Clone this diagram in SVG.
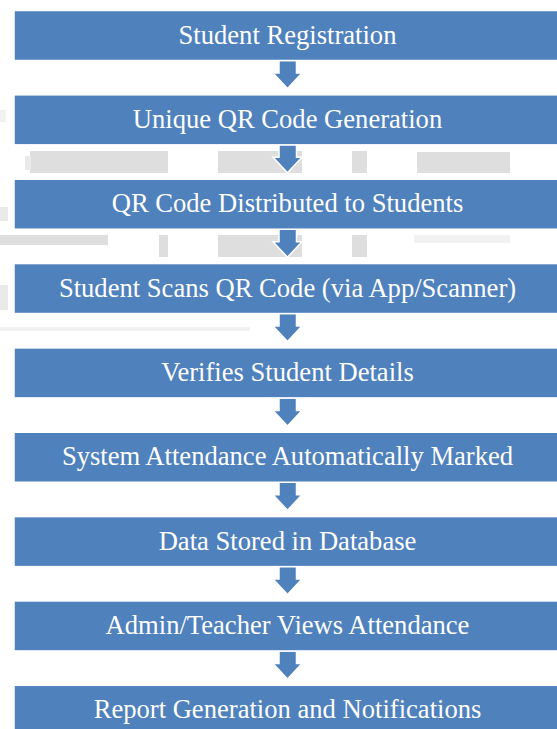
<svg xmlns="http://www.w3.org/2000/svg" width="557" height="729" viewBox="0 0 557 729">
<defs>
<style>
.box{fill:#4f81bd;stroke:#ffffff;stroke-width:1.5}
.arr{fill:#4f81bd;stroke:#ffffff;stroke-width:1.5;stroke-linejoin:miter}
.lbl{font-family:"Liberation Serif","Times New Roman",serif;font-size:26.6px;fill:#ffffff;text-anchor:middle}
.bg{fill:#dedede}
.bg2{fill:#eaeaea}
.bg3{fill:#f2f2f2}
</style>
<filter id="soft" x="-10%" y="-50%" width="120%" height="200%"><feGaussianBlur stdDeviation="0.7"/></filter>
<path id="ar" d="M279,0 H296.5 V12.5 H302 L287.5,28 L273,12.5 H279 Z"/>
</defs>
<rect width="557" height="729" fill="#ffffff"/>
<g id="background" filter="url(#soft)">
<rect class="bg" x="30" y="151" width="138" height="22"/>
<rect class="bg2" x="25" y="156" width="6" height="14"/>
<rect class="bg" x="218" y="151" width="84" height="22"/>
<rect class="bg" x="352" y="151" width="15" height="22"/>
<rect class="bg" x="417" y="152" width="93" height="21"/>
<rect class="bg" x="0" y="235" width="108" height="10"/>
<rect class="bg" x="159" y="235" width="9" height="22"/>
<rect class="bg" x="218" y="235" width="84" height="22"/>
<rect class="bg" x="352" y="235" width="15" height="22"/>
<rect class="bg3" x="414" y="235" width="96" height="8"/>
<rect class="bg3" x="0" y="110" width="6" height="12"/>
<rect class="bg2" x="0" y="207" width="8" height="14"/>
<rect class="bg2" x="0" y="285" width="8" height="25"/>
<rect class="bg3" x="0" y="327" width="250" height="4"/>
</g>
<g id="connectors">
<use href="#ar" class="arr" y="60.5"/>
<use href="#ar" class="arr" y="144.85"/>
<use href="#ar" class="arr" y="229.2"/>
<use href="#ar" class="arr" y="313.55"/>
<use href="#ar" class="arr" y="397.9"/>
<use href="#ar" class="arr" y="482.25"/>
<use href="#ar" class="arr" y="566.6"/>
<use href="#ar" class="arr" y="650.95"/>
</g>
<g id="n1"><rect class="box" x="14" y="10.5" width="550" height="50"/><text class="lbl" x="287.5" y="43.5">Student Registration</text></g>
<g id="n2"><rect class="box" x="14" y="94.85" width="550" height="50"/><text class="lbl" x="287.5" y="127.85">Unique QR Code Generation</text></g>
<g id="n3"><rect class="box" x="14" y="179.2" width="550" height="50"/><text class="lbl" x="287.5" y="212.2">QR Code Distributed to Students</text></g>
<g id="n4"><rect class="box" x="14" y="263.55" width="550" height="50"/><text class="lbl" x="287.5" y="296.55">Student Scans QR Code (via App/Scanner)</text></g>
<g id="n5"><rect class="box" x="14" y="347.9" width="550" height="50"/><text class="lbl" x="287.5" y="380.9">Verifies Student Details</text></g>
<g id="n6"><rect class="box" x="14" y="432.25" width="550" height="50"/><text class="lbl" x="287.5" y="465.25">System Attendance Automatically Marked</text></g>
<g id="n7"><rect class="box" x="14" y="516.6" width="550" height="50"/><text class="lbl" x="287.5" y="549.6">Data Stored in Database</text></g>
<g id="n8"><rect class="box" x="14" y="600.95" width="550" height="50"/><text class="lbl" x="287.5" y="633.95">Admin/Teacher Views Attendance</text></g>
<g id="n9"><rect class="box" x="14" y="685.3" width="550" height="50"/><text class="lbl" x="287.5" y="718.3">Report Generation and Notifications</text></g>
</svg>
